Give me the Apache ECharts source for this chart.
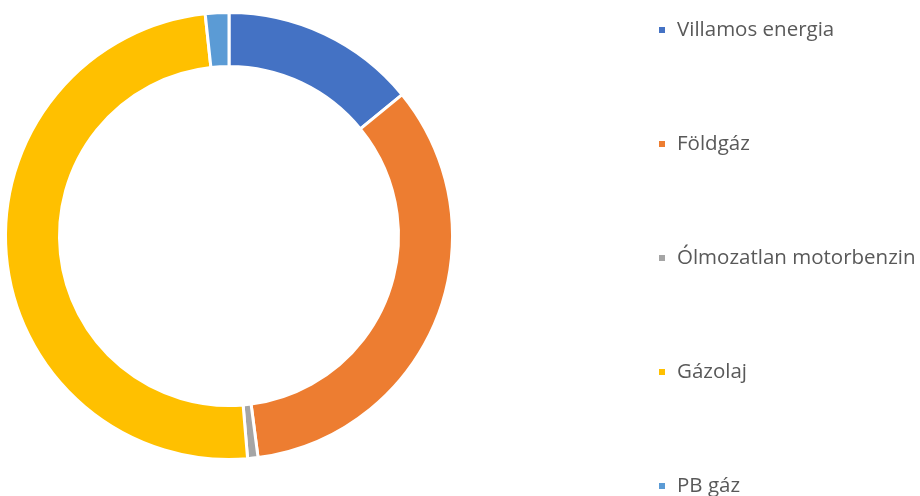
<!DOCTYPE html>
<html style="height: 100%">
<head>
    <meta charset="utf-8">
</head>
<body style="height: 100%; margin: 0; background: #fff">
    <div id="container" style="width: 920px; height: 496px"></div>
    <script type="text/javascript" src="https://cdn.jsdelivr.net/npm/echarts@6/dist/echarts.min.js"></script>
    <script type="text/javascript">
        var categories = ['Villamos energia', 'Földgáz', 'Ólmozatlan motorbenzin', 'Gázolaj', 'PB gáz'];
        var values = [14.1, 33.8, 0.75, 49.6, 1.7];
        var colors = ['#4472C4', '#ED7D31', '#A5A5A5', '#FFC000', '#5B9BD5'];

        var dom = document.getElementById('container');
        var myChart = echarts.init(dom);

        var pieData = [];
        for (var i = 0; i < categories.length; i++) {
            pieData.push({ name: categories[i], value: values[i], itemStyle: { color: colors[i] } });
        }

        // one legend per item so the last one is not wrapped off screen
        var legends = categories.map(function (name, i) {
            return {
                orient: 'vertical',
                left: 657,
                top: 17 + i * 114,
                padding: 0,
                itemWidth: 8,
                itemHeight: 8,
                icon: 'rect',
                selectedMode: false,
                textStyle: {
                    color: '#595959',
                    fontSize: 20.5,
                    fontFamily: 'Open Sans',
                    lineHeight: 26,
                    padding: [0, 0, 0, 6]
                },
                data: [name]
            };
        });

        var option = {
            animation: false,
            legend: legends,
            series: [{
                type: 'pie',
                center: [229, 236],
                radius: [169.5, 223.5],
                startAngle: 90,
                clockwise: true,
                label: { show: false },
                labelLine: { show: false },
                emphasis: { disabled: true },
                itemStyle: { borderColor: '#fff', borderWidth: 3 },
                data: pieData
            }]
        };
        myChart.setOption(option);
    </script>
</body>
</html>
